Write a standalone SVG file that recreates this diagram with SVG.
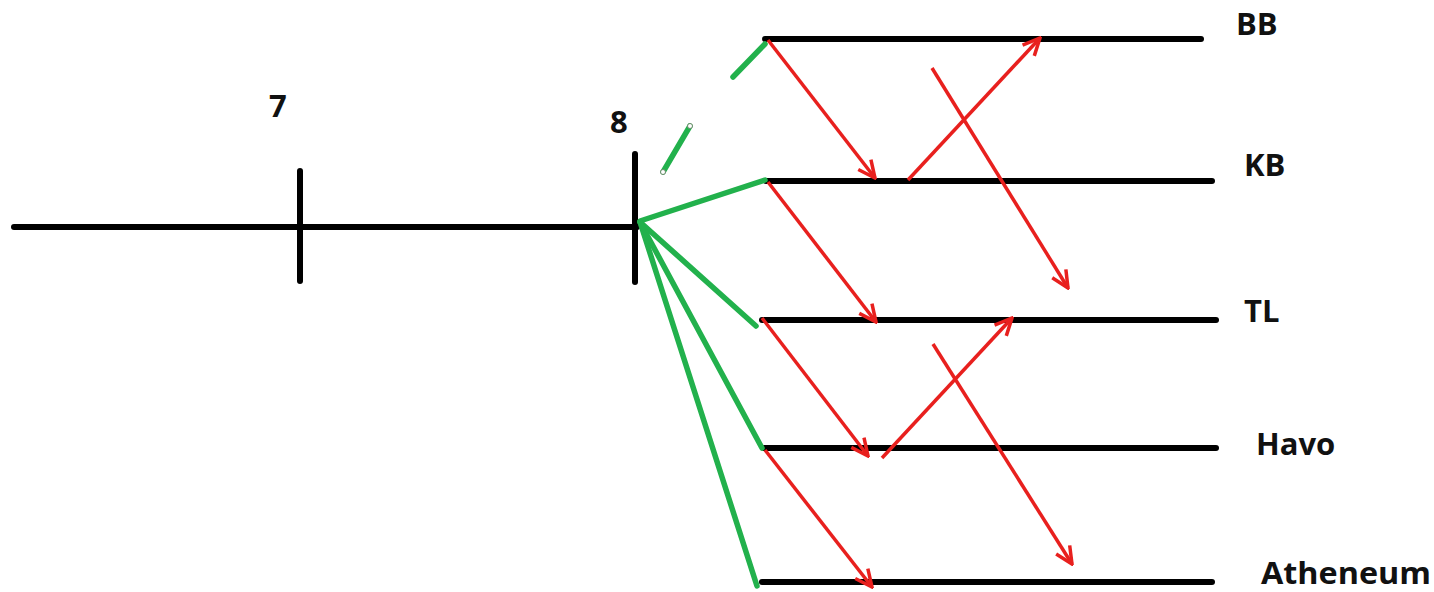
<svg xmlns="http://www.w3.org/2000/svg" width="1434" height="592" viewBox="0 0 1434 592">
<defs>
<style>
.blk{stroke:#000;stroke-width:6;stroke-linecap:round;fill:none}
.grn{stroke:#22b14c;stroke-width:5.5;stroke-linecap:round;fill:none}
.red{stroke:#e8201e;stroke-width:3.5;fill:none;marker-end:url(#ah)}
.lbl{font-family:"Open Sans","Liberation Sans",sans-serif;font-weight:bold;font-size:31px;fill:#111}
</style>
<marker id="ah" viewBox="0 0 20 20" refX="18" refY="10" markerWidth="20" markerHeight="20" markerUnits="userSpaceOnUse" orient="auto">
<path d="M1,2 L18,10 L1,18" stroke="#e8201e" stroke-width="3.5" fill="none" stroke-linejoin="miter"/>
</marker>
</defs>
<rect width="1434" height="592" fill="#fff"/>
<g id="timeline">
<line class="blk" x1="14" y1="227" x2="637" y2="227"/>
</g>
<g id="tick7">
<line class="blk" x1="300" y1="171" x2="300" y2="281"/>
<text class="lbl" x="269" y="117">7</text>
</g>
<g id="tick8">
<line class="blk" x1="635" y1="154" x2="635" y2="282"/>
<text class="lbl" x="610" y="133">8</text>
</g>
<g id="BB">
<line class="blk" x1="765" y1="39" x2="1201" y2="39"/>
<text class="lbl" x="1236" y="35">BB</text>
</g>
<g id="KB">
<line class="blk" x1="766" y1="181" x2="1212" y2="181"/>
<text class="lbl" x="1244" y="176">KB</text>
</g>
<g id="TL">
<line class="blk" x1="762" y1="320" x2="1216" y2="320"/>
<text class="lbl" x="1244" y="322">TL</text>
</g>
<g id="Havo">
<line class="blk" x1="764" y1="448" x2="1216" y2="448"/>
<text class="lbl" x="1256" y="455">Havo</text>
</g>
<g id="Atheneum">
<line class="blk" x1="762" y1="582" x2="1212" y2="582"/>
<text class="lbl" x="1261" y="584" textLength="170" lengthAdjust="spacingAndGlyphs">Atheneum</text>
</g>
<g id="connectors">
<line class="grn" x1="640" y1="221" x2="765" y2="180"/>
<line class="grn" x1="640" y1="222" x2="756" y2="326"/>
<line class="grn" x1="640" y1="222" x2="762" y2="448"/>
<line class="grn" x1="640" y1="222" x2="757" y2="586"/>
<line class="grn" x1="733" y1="77" x2="765" y2="44"/>
<line class="grn" x1="663" y1="172" x2="690" y2="126" stroke-width="4"/>
<circle cx="663" cy="172" r="2.5" fill="#fff" stroke="#6a8a6a" stroke-width="1"/>
<circle cx="690" cy="126" r="2.5" fill="#fff" stroke="#6a8a6a" stroke-width="1"/>
<line class="red" x1="768" y1="40" x2="875" y2="178"/>
<line class="red" x1="908" y1="180" x2="1040" y2="38"/>
<line class="red" x1="932" y1="68" x2="1068" y2="288"/>
<line class="red" x1="768" y1="182" x2="876" y2="322"/>
<line class="red" x1="762" y1="318" x2="868" y2="456"/>
<line class="red" x1="882" y1="458" x2="1012" y2="318"/>
<line class="red" x1="933" y1="344" x2="1072" y2="564"/>
<line class="red" x1="765" y1="450" x2="872" y2="587"/>
</g>
</svg>
